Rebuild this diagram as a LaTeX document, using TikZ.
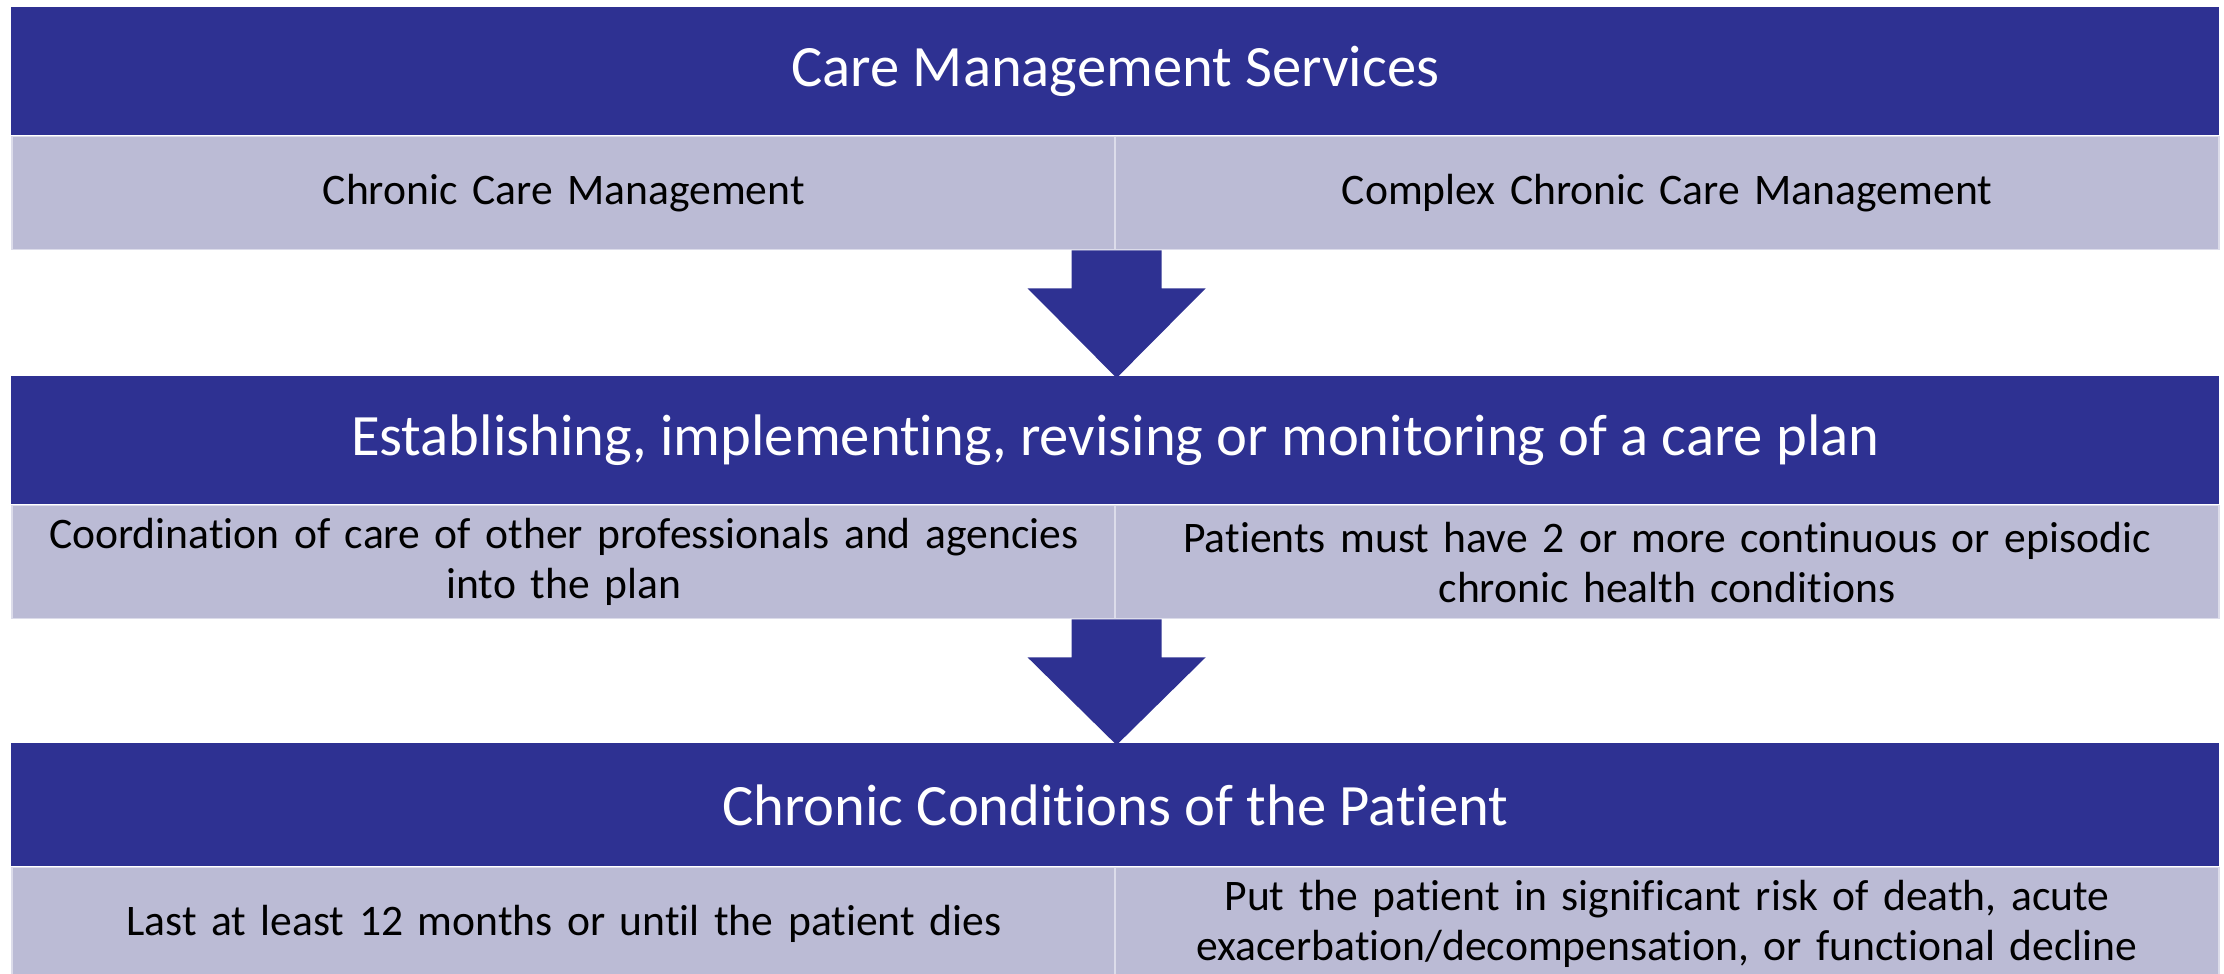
\documentclass[tikz,border=0pt]{standalone}
\usepackage{fontspec}
\setmainfont{Carlito}[Ligatures=NoCommon]
\usetikzlibrary{calc}
\definecolor{bandblue}{HTML}{2E3192}
\definecolor{cellfill}{HTML}{BBBBD5}
\definecolor{celledge}{HTML}{DCDCEA}
\tikzset{
  band/.style={fill=bandblue, text=white, inner sep=0pt,
    minimum width=1104pt, minimum height=64pt, anchor=north west,
    font=\fontsize{29.3}{35}\selectfont},
  cell/.style={fill=cellfill, draw=celledge, line width=0.8pt, text=black,
    inner sep=0pt, minimum width=552pt, minimum height=56.5pt,
    text width=545pt, align=center,
    font=\fontsize{21.8}{25}\selectfont},
  blockarrow/.style={fill=bandblue}
}
% Block arrow from the seam of a cell row (#1) down to the next band (#2)
\newcommand{\blockarrowdown}[2]{%
  \fill[blockarrow] let \p1=(#1), \p2=(#2) in
    (\x1-22.5pt,\y1) -- (\x1+22.5pt,\y1) -- (\x1+22.5pt,\y1-19pt)
    -- (\x1+44.5pt,\y1-19pt) -- (\x1,\y2-1pt) -- (\x1-44.5pt,\y1-19pt)
    -- (\x1-22.5pt,\y1-19pt) -- cycle;}
\begin{document}
\begin{tikzpicture}[x=0.5pt,y=-0.5pt]
  \useasboundingbox (0,0) rectangle (2224,974);
  \clip (0,0) rectangle (2224,974);

  % Tier 1
  \node[band] (t1) at (11,7) {Care Management Services};
  \node[cell, anchor=north west] (a1) at (t1.south west) {Chronic Care Management};
  \node[cell, anchor=north east] (b1) at (t1.south east) {Complex Chronic Care Management};

  % Tier 2
  \node[band] (t2) at (11,376) {Establishing, implementing, revising or monitoring of a care plan};
  \node[cell, anchor=north west] (a2) at (t2.south west) {Coordination of care of other professionals and agencies\\into the plan};
  \node[cell, anchor=north east] (b2) at (t2.south east) {Patients must have 2 or more continuous or episodic\\chronic health conditions};

  % Tier 3
  \node[band, minimum height=61.5pt] (t3) at (11,743) {Chronic Conditions of the Patient};
  \node[cell, anchor=north west] (a3) at (t3.south west) {Last at least 12 months or until the patient dies};
  \node[cell, anchor=north east] (b3) at (t3.south east) {Put the patient in significant risk of death, acute\\exacerbation/decompensation, or functional decline};

  % Connectors between tiers
  \blockarrowdown{a1.south east}{t2.north}
  \blockarrowdown{a2.south east}{t3.north}
\end{tikzpicture}
\end{document}
